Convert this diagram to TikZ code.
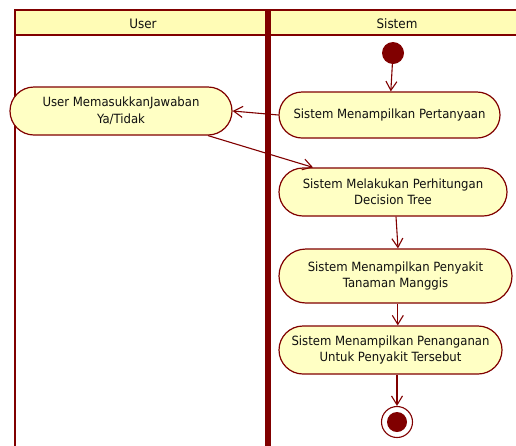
\documentclass[tikz,border=0pt]{standalone}
\usepackage{fontspec}
\setmainfont{DejaVu Sans}[FakeStretch=0.92]
\usetikzlibrary{shapes.misc,arrows.meta,calc}
\definecolor{umlred}{HTML}{800000}
\definecolor{umlfill}{HTML}{FFFFC4}
\definecolor{headfill}{HTML}{FFFCB6}
\definecolor{umltext}{HTML}{101010}
\tikzset{
  lane/.style={draw=umlred, line width=2.8pt},
  action/.style={rounded rectangle, draw=umlred, fill=umlfill, line width=1.2pt,
    text=umltext, align=center, inner sep=0pt,
    font=\fontsize{12.7}{16.5}\selectfont},
  flow/.style={draw=umlred, line width=1.1pt, -{Straight Barb[length=9pt,width=11pt,line width=1.1pt]}},
  startnode/.style={circle, fill=umlred, inner sep=0pt, minimum size=22pt},
  endouter/.style={circle, draw=umlred, fill=white, line width=1.1pt, inner sep=0pt, minimum size=31pt},
  endinner/.style={circle, fill=umlred, inner sep=0pt, minimum size=20pt},
  headtext/.style={text=umltext, font=\fontsize{13}{14}\selectfont}
}
\begin{document}
\begin{tikzpicture}[x=1pt,y=-1pt]
  \useasboundingbox (0,0) rectangle (516,445);
  % swimlane headers
  \fill[headfill] (15,10) rectangle (520,35);
  \draw[lane] (15,10) -- (520,10);
  \draw[lane] (15,35) -- (520,35);
  \draw[lane, line width=2.4pt] (15,9) -- (15,450);
  \draw[lane, line width=2.4pt] (266.3,9) -- (266.3,450);
  \draw[lane, line width=2.4pt] (269.3,9) -- (269.3,450);
  \node[headtext] (hUser) at (143,23.5) {User};
  \node[headtext] (hSistem) at (397,23.5) {Sistem};

  % activity nodes
  \node[startnode] (start) at (393,53) {};
  \node[action, minimum width=221pt, minimum height=46pt] (act1) at (389.5,115)
    {Sistem Menampilkan Pertanyaan};
  \node[action, minimum width=222pt, minimum height=48pt] (usr) at (121,111)
    {User MemasukkanJawaban\\Ya/Tidak};
  \node[action, minimum width=228pt, minimum height=48pt] (act2) at (393,192)
    {Sistem Melakukan Perhitungan\\Decision Tree};
  \node[action, minimum width=233pt, minimum height=54pt] (act3) at (395.5,276)
    {Sistem Menampilkan Penyakit\\Tanaman Manggis};
  \node[action, minimum width=223pt, minimum height=48pt] (act4) at (390.5,350)
    {Sistem Menampilkan Penanganan\\Untuk Penyakit Tersebut};
  \node[endouter] (end) at (397,422) {};
  \node[endinner] (endc) at (end.center) {};

  % control flow
  \draw[flow] (start) -- (act1);
  \draw[flow] (act1.west) -- (usr.east);
  \draw[flow] ($(usr.south)+(87,0)$) -- ($(act2.north)+(-80,0)$);
  \draw[flow] ($(act2.south)+(3,0)$) -- ($(act3.north)+(2.5,0)$);
  \draw[flow] ($(act3.south)+(2.3,0)$) -- ($(act4.north)+(7.3,0)$);
  \draw[flow] ($(act4.south)+(6.5,0)$) -- (end.north);
\end{tikzpicture}
\end{document}
